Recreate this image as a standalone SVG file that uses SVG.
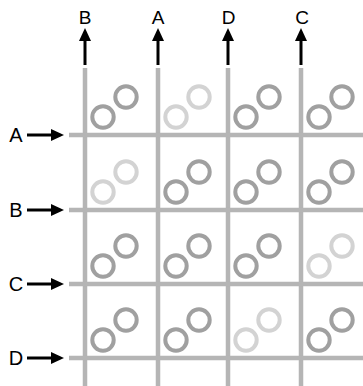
<svg xmlns="http://www.w3.org/2000/svg" width="363" height="386" viewBox="0 0 363 386">
<style>
.grid{stroke:#b5b5b5;stroke-width:4.5;fill:none}
.arr{stroke:#000;stroke-width:3;fill:none}
.dk{fill:none;stroke:#a0a0a0;stroke-width:4}
.lt{fill:none;stroke:#d3d3d3;stroke-width:4}
.lbl{font-family:"Liberation Sans",Arial,sans-serif;fill:#000;text-anchor:middle}
.top{font-size:19px}
.left{font-size:20px}
</style>
<defs>
<marker id="head" viewBox="0 0 13 12" markerWidth="13" markerHeight="12" refX="0" refY="6" orient="auto" markerUnits="userSpaceOnUse">
<path d="M0,0 L13,6 L0,12 z" fill="#000"/>
</marker>
<g id="pair-dk"><circle cx="18" cy="-18" r="10.7" class="dk"/><circle cx="41" cy="-38" r="10.7" class="dk"/></g>
<g id="pair-lt"><circle cx="18" cy="-18" r="10.7" class="lt"/><circle cx="41" cy="-38" r="10.7" class="lt"/></g>
</defs>
<g id="grid">
<line class="grid" x1="85" y1="68" x2="85" y2="386"/>
<line class="grid" x1="158" y1="68" x2="158" y2="386"/>
<line class="grid" x1="228" y1="68" x2="228" y2="386"/>
<line class="grid" x1="301" y1="68" x2="301" y2="386"/>
<line class="grid" x1="69" y1="135" x2="363" y2="135"/>
<line class="grid" x1="69" y1="210" x2="363" y2="210"/>
<line class="grid" x1="69" y1="284" x2="363" y2="284"/>
<line class="grid" x1="69" y1="358" x2="363" y2="358"/>
</g>
<g id="cells">
<use href="#pair-dk" x="85" y="135"/>
<use href="#pair-lt" x="158" y="135"/>
<use href="#pair-dk" x="228" y="135"/>
<use href="#pair-dk" x="301" y="135"/>
<use href="#pair-lt" x="85" y="210"/>
<use href="#pair-dk" x="158" y="210"/>
<use href="#pair-dk" x="228" y="210"/>
<use href="#pair-dk" x="301" y="210"/>
<use href="#pair-dk" x="85" y="284"/>
<use href="#pair-dk" x="158" y="284"/>
<use href="#pair-dk" x="228" y="284"/>
<use href="#pair-lt" x="301" y="284"/>
<use href="#pair-dk" x="85" y="358"/>
<use href="#pair-dk" x="158" y="358"/>
<use href="#pair-lt" x="228" y="358"/>
<use href="#pair-dk" x="301" y="358"/>
</g>
<g id="connectors">
<line class="arr" x1="85" y1="65" x2="85" y2="41" marker-end="url(#head)"/>
<line class="arr" x1="158" y1="65" x2="158" y2="41" marker-end="url(#head)"/>
<line class="arr" x1="228" y1="65" x2="228" y2="41" marker-end="url(#head)"/>
<line class="arr" x1="301" y1="65" x2="301" y2="41" marker-end="url(#head)"/>
<line class="arr" x1="27" y1="135" x2="51" y2="135" marker-end="url(#head)"/>
<line class="arr" x1="27" y1="210" x2="51" y2="210" marker-end="url(#head)"/>
<line class="arr" x1="27" y1="284" x2="51" y2="284" marker-end="url(#head)"/>
<line class="arr" x1="27" y1="358" x2="51" y2="358" marker-end="url(#head)"/>
</g>
<g id="top-labels">
<text class="lbl top" x="85" y="24">B</text>
<text class="lbl top" x="158" y="24">A</text>
<text class="lbl top" x="228.5" y="24">D</text>
<text class="lbl top" x="302" y="24">C</text>
</g>
<g id="left-labels">
<text class="lbl left" x="16" y="142">A</text>
<text class="lbl left" x="16" y="217">B</text>
<text class="lbl left" x="16" y="291">C</text>
<text class="lbl left" x="16" y="365">D</text>
</g>
</svg>
